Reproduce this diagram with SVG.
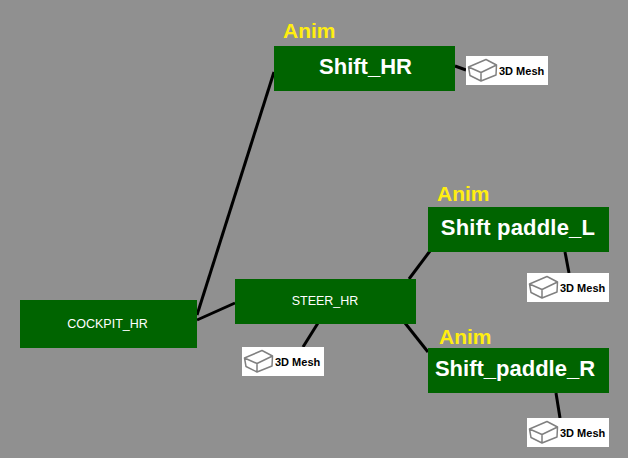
<svg xmlns="http://www.w3.org/2000/svg" width="628" height="458" viewBox="0 0 628 458">
<style>
.n{fill:#006400}
.big{font:bold 22px "Liberation Sans",Arial,sans-serif;fill:#fff;text-anchor:middle}
.small{font:12.5px "Liberation Sans",Arial,sans-serif;fill:#fff;text-anchor:middle}
.anim{font:bold 21px "Liberation Sans",Arial,sans-serif;fill:#ffee11}
.mt{font:bold 11px "Liberation Sans",Arial,sans-serif;fill:#000}
.c line{stroke:#000;stroke-width:3;stroke-linecap:butt}
.box{fill:none;stroke:#808080;stroke-width:1.5;stroke-linejoin:round}
</style>
<defs>
<g id="mesh">
<rect width="82" height="29" fill="#fff"/>
<path class="box" d="M2.500 11 L20 3.500 L30.500 9 L30 19 L15 25 L4 19.500 Z M2.500 11 L15 16.500 L30.500 9 M15 16.500 V25"/>
<text class="mt" x="33" y="18.500">3D Mesh</text>
</g>
</defs>
<rect width="628" height="458" fill="#909090"/>
<g class="c" id="connectors">
<line x1="197" y1="315" x2="274" y2="72"/>
<line x1="197" y1="320" x2="235" y2="303"/>
<line x1="455" y1="66" x2="466" y2="70"/>
<line x1="318" y1="323" x2="303" y2="347"/>
<line x1="409" y1="279" x2="430" y2="251"/>
<line x1="565" y1="252" x2="569" y2="273"/>
<line x1="405" y1="323" x2="428" y2="352"/>
<line x1="556" y1="393" x2="560" y2="418"/>
</g>
<g id="cockpit"><rect class="n" x="20" y="300" width="177" height="48"/><text class="small" x="107.500" y="327.500">COCKPIT_HR</text></g>
<g id="steer"><rect class="n" x="235" y="279" width="181" height="45"/><text class="small" x="325" y="304.500">STEER_HR</text></g>
<g id="shift-hr"><rect class="n" x="274" y="46" width="181" height="45"/><text class="big" x="365.500" y="74">Shift_HR</text><text class="anim" x="283" y="38">Anim</text></g>
<g id="paddle-l"><rect class="n" x="428" y="207" width="181" height="45"/><text class="big" x="518" y="235" style="letter-spacing:.2px">Shift paddle_L</text><text class="anim" x="437" y="201">Anim</text></g>
<g id="paddle-r"><rect class="n" x="428" y="348" width="181" height="45"/><text class="big" x="515" y="376">Shift_paddle_R</text><text class="anim" x="439" y="344">Anim</text></g>
<g id="mesh-hr"><use href="#mesh" x="466" y="56"/></g>
<g id="mesh-steer"><use href="#mesh" x="242" y="347"/></g>
<g id="mesh-l"><use href="#mesh" x="527" y="273"/></g>
<g id="mesh-r"><use href="#mesh" x="527" y="418"/></g>
</svg>
